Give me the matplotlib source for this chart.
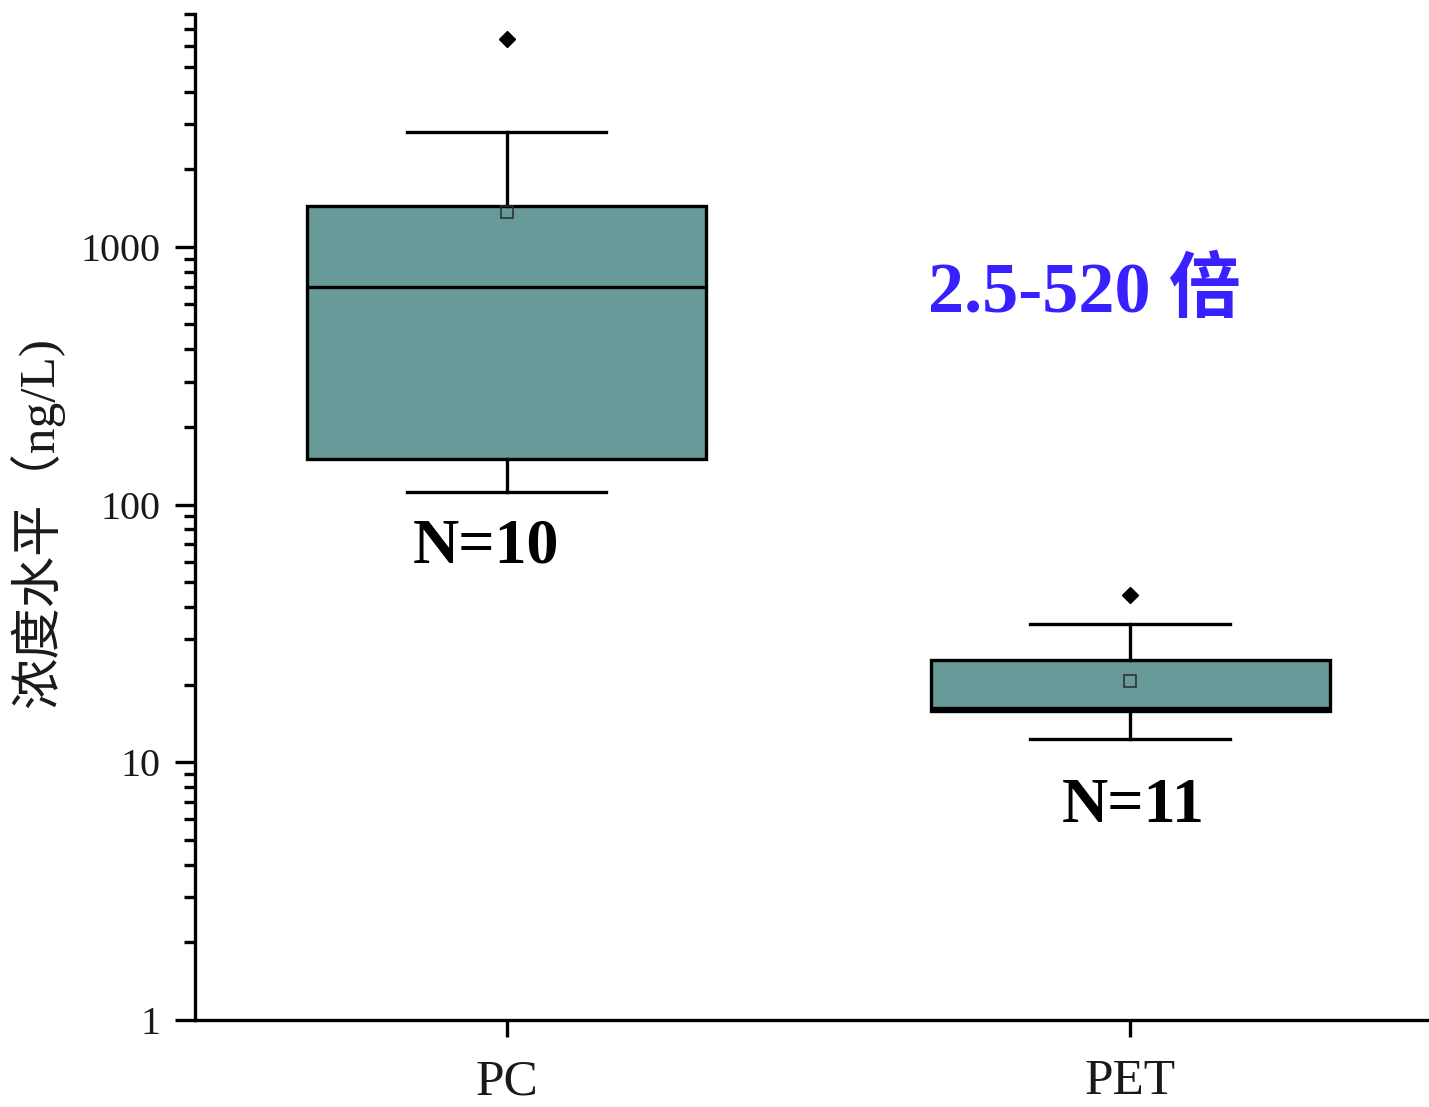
import matplotlib
matplotlib.use('agg')
import matplotlib.pyplot as plt
from matplotlib.ticker import LogLocator, NullFormatter, FixedLocator, FixedFormatter

# +------+
# | Data |
# +------+
groups = ['PC', 'PET']
q1 = [150, 15.8]
medians = [700, 16.3]
q3 = [1440, 24.9]
whisker_lo = [112, 12.3]
whisker_hi = [2800, 34.3]
means = [1370, 20.6]
outliers = [[6400], [44.5]]
sample_sizes = [10, 11]
fold_text = '2.5-520 倍'

box_color = '#689a99'
line_w = 2.4

# +-------+
# | Fonts |
# +-------+
plt.rcParams.update({'font.family': ['Liberation Serif', 'Noto Sans CJK SC'],
                     'axes.unicode_minus': False})

fig = plt.figure(figsize=(14.29, 11.07), dpi=100)
ax = fig.add_axes([195 / 1429, 1 - 1020 / 1107, 1233 / 1429, 1006 / 1107])

# Build the box statistics for bxp
stats = []
for i, name in enumerate(groups):
  stats.append({'label': name,
                'q1': q1[i], 'med': medians[i], 'q3': q3[i],
                'whislo': whisker_lo[i], 'whishi': whisker_hi[i],
                'mean': means[i], 'fliers': outliers[i]})

positions = [1, 2]
ax.bxp(stats, positions=positions, widths=0.64, capwidths=0.32,
       patch_artist=True, showmeans=True, meanline=False,
       boxprops=dict(facecolor=box_color, edgecolor='black', linewidth=line_w),
       medianprops=dict(color='black', linewidth=line_w),
       whiskerprops=dict(color='black', linewidth=line_w),
       capprops=dict(color='black', linewidth=line_w),
       flierprops=dict(marker='D', markerfacecolor='black',
                       markeredgecolor='black', markersize=8.5),
       meanprops=dict(marker='s', markerfacecolor='none',
                      markeredgecolor='#2a2a2a', markersize=9,
                      markeredgewidth=1.1))

# +------+
# | Axes |
# +------+
ax.set_yscale('log')
ax.set_ylim(1, 8000)
ax.set_xlim(0.5, 2.478)

ax.spines['top'].set_visible(False)
ax.spines['right'].set_visible(False)
for side in ('left', 'bottom'):
  ax.spines[side].set_linewidth(line_w)

ax.yaxis.set_major_locator(FixedLocator([1, 10, 100, 1000]))
ax.yaxis.set_major_formatter(FixedFormatter(['1', '10', '100', '1000']))
ax.yaxis.set_minor_locator(LogLocator(base=10, subs=range(2, 10)))
ax.yaxis.set_minor_formatter(NullFormatter())
ax.tick_params(axis='y', which='major', length=14.5, width=line_w,
               labelsize=29, pad=10, labelcolor='#1a1a1a')
ax.tick_params(axis='y', which='minor', length=8, width=line_w)

ax.set_xticks(positions)
ax.set_xticklabels(groups)
ax.tick_params(axis='x', which='major', length=12, width=line_w,
               labelsize=37, pad=16, labelcolor='#1a1a1a')

ax.set_ylabel('浓度水平（ng/L)', fontsize=37, color='#1a1a1a')
ax.yaxis.set_label_coords(-0.106, 0.495)

# Sample sizes and fold range
ax.text(0.966, 59.6, 'N=%d' % sample_sizes[0], fontsize=46,
        fontweight='bold', ha='center', va='baseline')
ax.text(2.005, 5.85, 'N=%d' % sample_sizes[1], fontsize=46,
        fontweight='bold', ha='center', va='baseline')
ax.text(1.676, 560, fold_text, fontsize=52, fontweight='bold',
        color='#3820ff', ha='left', va='baseline')

plt.savefig('out.png', dpi=100)
